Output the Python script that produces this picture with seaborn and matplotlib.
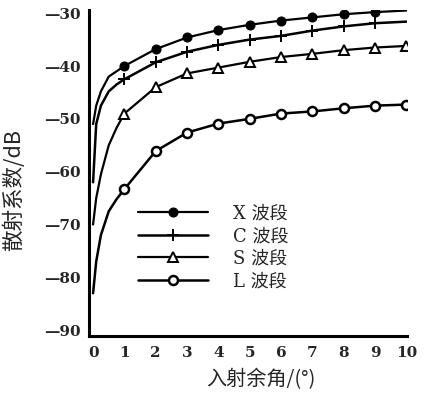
import matplotlib
matplotlib.use("Agg")
import matplotlib.pyplot as plt
import seaborn as sns
import pandas as pd

# incidence (grazing) angle, degrees
angle = [0, 0.1, 0.25, 0.5, 0.75, 1, 2, 3, 4, 5, 6, 7, 8, 9, 10]
x_band = [-51.0, -47.5, -44.8, -42.0, -41.0, -40.0, -36.8, -34.6, -33.2, -32.2, -31.4, -30.8, -30.2, -29.8, -29.5]
c_band = [-62.0, -51.0, -47.5, -44.8, -43.5, -42.5, -39.3, -37.3, -36.0, -35.0, -34.3, -33.3, -32.5, -31.9, -31.6]
s_band = [-70.0, -65.0, -60.5, -55.0, -51.7, -49.0, -44.0, -41.4, -40.3, -39.2, -38.3, -37.7, -37.0, -36.5, -36.2]
l_band = [-83.0, -77.0, -72.0, -67.5, -65.2, -63.3, -56.1, -52.6, -50.9, -50.0, -49.0, -48.6, -48.0, -47.5, -47.3]
labels = ["X 波段", "C 波段", "S 波段", "L 波段"]
x_ticks = list(range(0, 11))
y_ticks = [-30, -40, -50, -60, -70, -80, -90]

sns.set_theme(style="white")
plt.rcParams["font.family"] = ["DejaVu Serif", "Noto Sans CJK SC"]

fig = plt.figure(figsize=(4.35, 3.97), dpi=100)
ax = fig.add_axes([89 / 435, 61 / 397, 318 / 435, 326 / 397])

df = pd.DataFrame({"angle": angle, "X": x_band, "C": c_band, "S": s_band, "L": l_band})

mk_int = [i for i, a in enumerate(angle) if a >= 1 and float(a).is_integer()]
styles = [
    ("X", dict(marker="o", markersize=6.5, markerfacecolor="black", markeredgecolor="black",
               markevery=[i for i in mk_int if angle[i] <= 9], lw=1.6)),
    ("C", dict(marker="+", markersize=9, markeredgewidth=1.4, markeredgecolor="black",
               markevery=[i for i in mk_int if angle[i] <= 9], lw=1.8)),
    ("S", dict(marker="^", markersize=7, markerfacecolor="white", markeredgecolor="black",
               markeredgewidth=1.4, markevery=mk_int, lw=1.6)),
    ("L", dict(marker="o", markersize=6.5, markerfacecolor="white", markeredgecolor="black",
               markeredgewidth=1.8, markevery=mk_int, lw=1.8)),
]
for (col, kw), lab in zip(styles, labels):
    sns.lineplot(data=df, x="angle", y=col, ax=ax, color="black", label=lab, sort=False, **kw)

ax.set_xlim(-0.13, 10.02)
ax.set_ylim(-91.1, -29.4)
ax.set_xticks(x_ticks)
ax.set_xticklabels([str(t) for t in x_ticks], fontsize=11, fontweight="bold")
ax.set_yticks(y_ticks)
ax.set_yticklabels(["—" + str(abs(t)) for t in y_ticks], fontsize=11, fontweight="bold")
ax.tick_params(axis="both", direction="in", length=3, width=1, color="black")
ax.tick_params(axis="y", pad=6)
ax.tick_params(axis="x", pad=7)

for s in ["top", "right"]:
    ax.spines[s].set_visible(False)
for s in ["left", "bottom"]:
    ax.spines[s].set_linewidth(2.2)
    ax.spines[s].set_color("black")

ax.set_ylabel("")
fig.text(14 / 435, 1 - 190 / 397, "散射系数/dB", rotation=90, ha="center", va="center",
         fontsize=15.5, family=["Noto Sans CJK SC", "DejaVu Sans"])
ax.set_xlabel("入射余角/(°)", fontsize=14.5, family=["Noto Sans CJK SC", "DejaVu Sans"])
ax.xaxis.label.set_ha("left")
ax.xaxis.set_label_coords(0.37, -0.1)

leg = ax.legend(loc="upper left", bbox_to_anchor=(0.13, 0.425), frameon=False,
                fontsize=13, handlelength=3.9, handletextpad=1.4, labelspacing=0.25,
                borderaxespad=0.0)

fig.savefig("out.png", dpi=100)
